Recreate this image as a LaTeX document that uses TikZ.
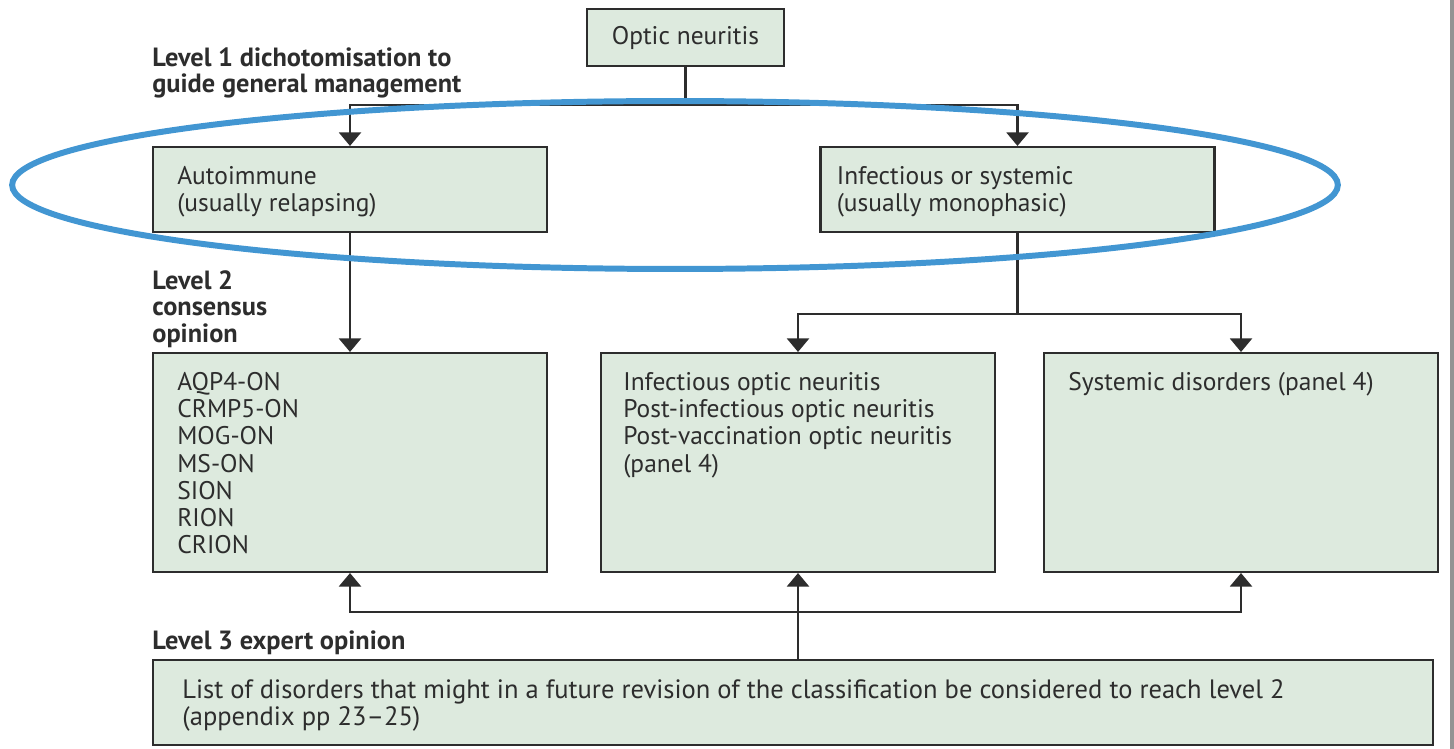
\documentclass[tikz,border=0pt]{standalone}
\usepackage{fontspec}
\setmainfont{PT Sans}
\usetikzlibrary{arrows.meta, positioning}
\definecolor{boxfill}{RGB}{221,234,222}
\definecolor{ringblue}{RGB}{66,150,210}
\definecolor{inkgray}{RGB}{45,45,45}
\tikzset{
  box/.style={draw=inkgray, line width=1.2pt, fill=boxfill, inner sep=0pt},
  boxtext/.style={anchor=north west, align=left, inner xsep=0.5cm, inner ysep=0.4cm, text=inkgray, font=\fontsize{14.5}{15.5}\selectfont},
  levellabel/.style={anchor=north west, align=left, inner sep=0pt, text=inkgray, font=\bfseries\fontsize{15}{15.2}\selectfont},
  link/.style={draw=inkgray, line width=1.2pt},
  flow/.style={link, -{Triangle[width=0.44cm, length=0.27cm]}}
}

\begin{document}
\begin{tikzpicture}[x=0.02cm, y=-0.02cm]
    \useasboundingbox (0,0) rectangle (1454,749);
    \fill[gray!85] (1450,0) rectangle (1454,749);

    \node[box, minimum width=3.94cm, minimum height=1.14cm, text=inkgray, font=\fontsize{14.5}{15.5}\selectfont] (opt) at (685.5,37.5) {Optic neuritis};

    \node[box, minimum width=7.88cm, minimum height=1.70cm] (auto) at (350,189.5) {};
    \node[boxtext] (autotxt) at (auto.north west) {Autoimmune\\(usually relapsing)};
    \node[box, minimum width=7.88cm, minimum height=1.70cm] (infsys) at (1017.5,189.5) {};
    \node[boxtext, inner xsep=0.34cm] (infsystxt) at (infsys.north west) {Infectious or systemic\\(usually monophasic)};

    \node[box, minimum width=7.88cm, minimum height=4.38cm] (aqp) at (350,462.5) {};
    \node[boxtext] (aqptxt) at (aqp.north west) {AQP4-ON\\CRMP5-ON\\MOG-ON\\MS-ON\\SION\\RION\\CRION};
    \node[box, minimum width=7.88cm, minimum height=4.38cm] (infon) at (798,462.5) {};
    \node[boxtext, inner xsep=0.46cm] (infontxt) at (infon.north west) {Infectious optic neuritis\\Post-infectious optic neuritis\\Post-vaccination optic neuritis\\(panel 4)};
    \node[box, minimum width=7.88cm, minimum height=4.38cm] (sysd) at (1241,462.5) {};
    \node[boxtext] (sysdtxt) at (sysd.north west) {Systemic disorders (panel 4)};

    \node[box, minimum width=25.6cm, minimum height=1.70cm] (list) at (793,702.5) {};
    \node[boxtext, inner xsep=0.6cm, font=\fontsize{15.1}{15.5}\selectfont] (listtxt) at (list.north west) {List of disorders that might in a future revision of the classification be considered to reach level 2\\(appendix pp 23--25)};

    \node[levellabel] (lev1) at (152,47) {Level 1 dichotomisation to\\guide general management};
    \node[levellabel] (lev2) at (152,270) {Level 2\\consensus\\opinion};
    \node[levellabel] (lev3) at (152,630) {Level 3 expert opinion};

    \draw[link] (opt.south) -- ++(0,38) coordinate (split1);
    \draw[flow] (split1) -| (auto.north);
    \draw[flow] (split1) -| (infsys.north);
    \draw[flow] (auto.south) -- (aqp.north);
    \draw[link] (infsys.south) -- ++(0,81) coordinate (split2);
    \draw[flow] (split2) -| (infon.north);
    \draw[flow] (split2) -| (sysd.north);
    \draw[flow] (list.north -| infon.south) -- (infon.south);
    \coordinate (split3) at (infon.south |- 0,612);
    \draw[flow] (split3) -| (aqp.south);
    \draw[flow] (split3) -| (sysd.south);

    \draw[ringblue, line width=3.4pt] (675,185) ellipse (13.26cm and 1.68cm);
\end{tikzpicture}
\end{document}
